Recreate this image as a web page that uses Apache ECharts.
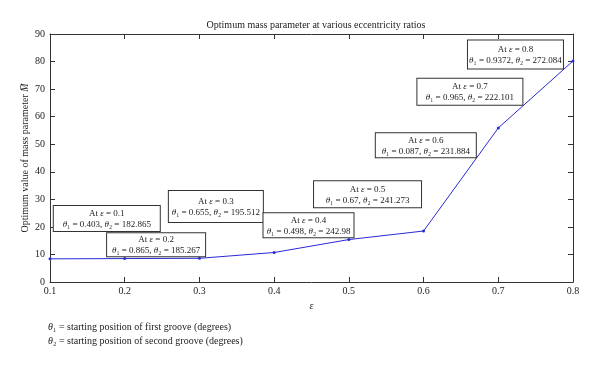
<!DOCTYPE html>
<html>
<head>
<meta charset="utf-8">
<script src="https://cdn.jsdelivr.net/npm/echarts@6/dist/echarts.min.js"></script>
<style>
  html, body { margin: 0; padding: 0; background: #fff; }
  #main { width: 600px; height: 368px; }
</style>
</head>
<body>
<div id="main"></div>
<script>
// eccentricity ratios and optimum mass parameter
var eps = [0.1, 0.2, 0.3, 0.4, 0.5, 0.6, 0.7, 0.8];
var mValues = [8.4, 8.5, 8.6, 10.7, 15.4, 18.5, 55.9, 80.2];
// groove start positions shown in the boxes
var theta1 = ['0.403', '0.865', '0.655', '0.498', '0.67', '0.087', '0.965', '0.9372'];
var theta2 = ['182.865', '185.267', '195.512', '242.98', '241.273', '231.884', '222.101', '272.084'];
// where each box sits (data units) and its size in px
var boxAt = [[0.176, 23.0], [0.242, 13.5], [0.322, 27.4], [0.446, 20.6],
             [0.525, 31.8], [0.603, 49.6], [0.662, 69.0], [0.723, 82.6]];
var boxW = [106, 98, 94, 90, 107, 100, 105, 95];
var boxH = [25, 23, 31, 24, 26, 24, 26, 28];

var serif = '"Liberation Serif", "DejaVu Serif", serif';

var chart = echarts.init(document.getElementById('main'));

var marks = [];
for (var i = 0; i < eps.length; i++) {
    var pv = (boxH[i] - 22) / 2;
    marks.push({
        coord: boxAt[i],
        label: {
            width: boxW[i] - 4,
            padding: [pv + 0.5, 2, pv - 0.5, 2],
            formatter: '{a|At }{i|ε}{a| = ' + eps[i].toFixed(1) + '}\n{i|θ}{a|₁ = ' + theta1[i] + ', }{i|θ}{a|₂ = ' + theta2[i] + '}'
        }
    });
}

var axisCommon = {
    type: 'value',
    axisLine: { show: true, onZero: false, lineStyle: { color: '#333', width: 1 } },
    axisTick: { show: true, inside: true, length: 5, lineStyle: { color: '#333' } },
    splitLine: { show: false }
};

var option = {
    animation: false,
    backgroundColor: '#fff',
    title: {
        text: 'Optimum mass parameter at various eccentricity ratios',
        left: 311,
        textAlign: 'center',
        top: 15,
        textStyle: { fontFamily: serif, fontSize: 10, fontWeight: 'normal', color: '#222' }
    },
    grid: { left: 50, right: 27, top: 34, bottom: 86 },
    xAxis: [
        Object.assign({}, axisCommon, {
            min: 0.1, max: 0.8, interval: 0.1,
            position: 'bottom',
            name: 'ε',
            nameLocation: 'middle',
            nameGap: 19,
            nameMoveOverlap: false,
            nameTextStyle: { fontFamily: serif, fontSize: 10, fontStyle: 'italic', color: '#222' },
            axisLabel: {
                fontFamily: serif, fontSize: 10, color: '#222', margin: 4,
                formatter: function (v) { return v.toFixed(1); }
            }
        }),
        Object.assign({}, axisCommon, {
            min: 0.1, max: 0.8, interval: 0.1,
            position: 'top',
            axisLabel: { show: false }
        })
    ],
    yAxis: [
        Object.assign({}, axisCommon, {
            min: 0, max: 90, interval: 10,
            position: 'left',
            name: 'Optimum value of mass parameter {i|M̅}',
            nameLocation: 'middle',
            nameGap: 20,
            nameMoveOverlap: false,
            nameTextStyle: {
                fontFamily: serif, fontSize: 10, color: '#222',
                rich: { i: { fontFamily: serif, fontSize: 10, fontStyle: 'italic', color: '#222' } }
            },
            axisLabel: { fontFamily: serif, fontSize: 10, color: '#222', margin: 5 }
        }),
        Object.assign({}, axisCommon, {
            min: 0, max: 90, interval: 10,
            position: 'right',
            axisLabel: { show: false }
        })
    ],
    series: [{
        type: 'line',
        data: eps.map(function (e, k) { return [e, mValues[k]]; }),
        symbol: 'circle',
        symbolSize: 3,
        lineStyle: { color: '#2a2ad8', width: 1 },
        itemStyle: { color: '#2a2ad8' },
        markPoint: {
            symbol: 'rect',
            symbolSize: 1,
            itemStyle: { color: 'rgba(0,0,0,0)' },
            label: {
                show: true,
                position: 'inside',
                align: 'center',
                backgroundColor: '#fff',
                borderColor: '#333',
                borderWidth: 1,
                lineHeight: 11,
                fontFamily: serif,
                fontSize: 9,
                color: '#222',
                rich: {
                    a: { fontFamily: serif, fontSize: 9, color: '#222', align: 'center', lineHeight: 11 },
                    i: { fontFamily: serif, fontSize: 9, fontStyle: 'italic', color: '#222', align: 'center', lineHeight: 11 }
                }
            },
            data: marks
        }
    }],
    graphic: [
        {
            type: 'text', left: 48, top: 322,
            style: {
                text: '{i|θ}{a|₁ = starting position of first groove (degrees)}',
                rich: {
                    a: { fontFamily: serif, fontSize: 10, fill: '#222' },
                    i: { fontFamily: serif, fontSize: 10, fontStyle: 'italic', fill: '#222' }
                }
            }
        },
        {
            type: 'text', left: 48, top: 336,
            style: {
                text: '{i|θ}{a|₂ = starting position of second groove (degrees)}',
                rich: {
                    a: { fontFamily: serif, fontSize: 10, fill: '#222' },
                    i: { fontFamily: serif, fontSize: 10, fontStyle: 'italic', fill: '#222' }
                }
            }
        }
    ]
};

chart.setOption(option);
</script>
</body>
</html>
